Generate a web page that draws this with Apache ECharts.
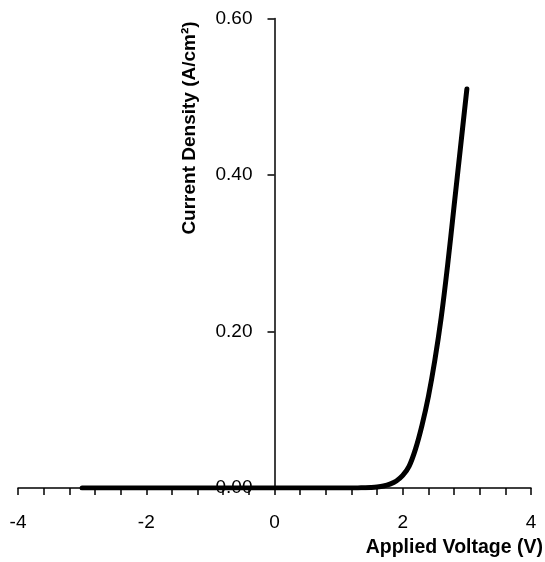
<!DOCTYPE html>
<html>
<head>
<meta charset="utf-8">
<script src="https://cdn.jsdelivr.net/npm/echarts@6/dist/echarts.min.js"></script>
<style>
html,body{margin:0;padding:0;background:#fff;}
#chart{width:545px;height:562px;}
</style>
</head>
<body>
<div id="chart"></div>
<script>
// Applied voltage (V)
var voltage = [-3.0, -2.5, -2.0, -1.5, -1.0, -0.5, 0.0, 0.5, 1.0, 1.2, 1.3, 1.4, 1.5, 1.6, 1.7, 1.8, 1.9, 2.0, 2.1, 2.2, 2.3, 2.4, 2.5, 2.6, 2.7, 2.8, 2.9, 3.0];
// Current density (A/cm^2)
var currentDensity = [0, 0, 0, 0, 0, 0, 0, 0, 0, 0, 0.0001, 0.0003, 0.0006, 0.0012, 0.0025, 0.005, 0.009, 0.016, 0.028, 0.050, 0.080, 0.117, 0.163, 0.218, 0.285, 0.36, 0.435, 0.51];
var xTicks = [-4, -2, 0, 2, 4];
var yTicks = [0, 0.2, 0.4, 0.6];
var xTitle = 'Applied Voltage (V)';
var yTitle = 'Current Density (A/cm²)';

var pts = voltage.map(function (v, i) { return [v, currentDensity[i]]; });
var font = '"Liberation Sans", Arial, sans-serif';

var W = 545, gridLeft = 18, gridRight = 14;
var xMin = xTicks[0], xMax = xTicks[xTicks.length - 1];
var plotW = W - gridLeft - gridRight;
var yAxisOffset = -plotW * (0 - xMin) / (xMax - xMin);

var chart = echarts.init(document.getElementById('chart'), null, {renderer: 'canvas'});
chart.setOption({
  animation: false,
  backgroundColor: '#ffffff',
  grid: {left: gridLeft, right: gridRight, top: 18.5, bottom: 74, containLabel: false, outerBoundsMode: 'none'},
  xAxis: {
    type: 'value',
    min: xMin, max: xMax, interval: 2,
    axisLine: {show: true, onZero: true, lineStyle: {color: '#000', width: 1.5}},
    axisTick: {show: true, inside: false, length: 7, lineStyle: {color: '#000', width: 1.5}},
    minorTick: {show: true, splitNumber: 5, length: 7, lineStyle: {color: '#000', width: 1.5}},
    splitLine: {show: false},
    axisLabel: {color: '#000', fontFamily: font, fontSize: 19, margin: 25}
  },
  yAxis: {
    type: 'value',
    position: 'left',
    offset: yAxisOffset,
    min: yTicks[0], max: yTicks[yTicks.length - 1], interval: 0.2,
    axisLine: {show: true, onZero: false, lineStyle: {color: '#000', width: 1.5}},
    axisTick: {show: true, inside: false, length: 7, lineStyle: {color: '#000', width: 1.5}},
    splitLine: {show: false},
    axisLabel: {color: '#000', fontFamily: font, fontSize: 19, margin: 22,
      formatter: function (v) { return v.toFixed(2); }}
  },
  graphic: [
    {type: 'text', x: 190, y: 128, rotation: Math.PI / 2,
      style: {text: yTitle, fontFamily: font, fontSize: 19, fontWeight: 'bold', fill: '#000',
        textAlign: 'center', textVerticalAlign: 'middle'}},
    {type: 'text', x: 543, y: 548,
      style: {text: xTitle, fontFamily: font, fontSize: 19.5, fontWeight: 'bold', fill: '#000',
        textAlign: 'right', textVerticalAlign: 'middle'}}
  ],
  series: [{
    type: 'line',
    data: pts,
    showSymbol: false,
    smooth: 0.35,
    lineStyle: {color: '#000', width: 5, cap: 'round', join: 'round'},
    z: 1
  }]
});
</script>
</body>
</html>
